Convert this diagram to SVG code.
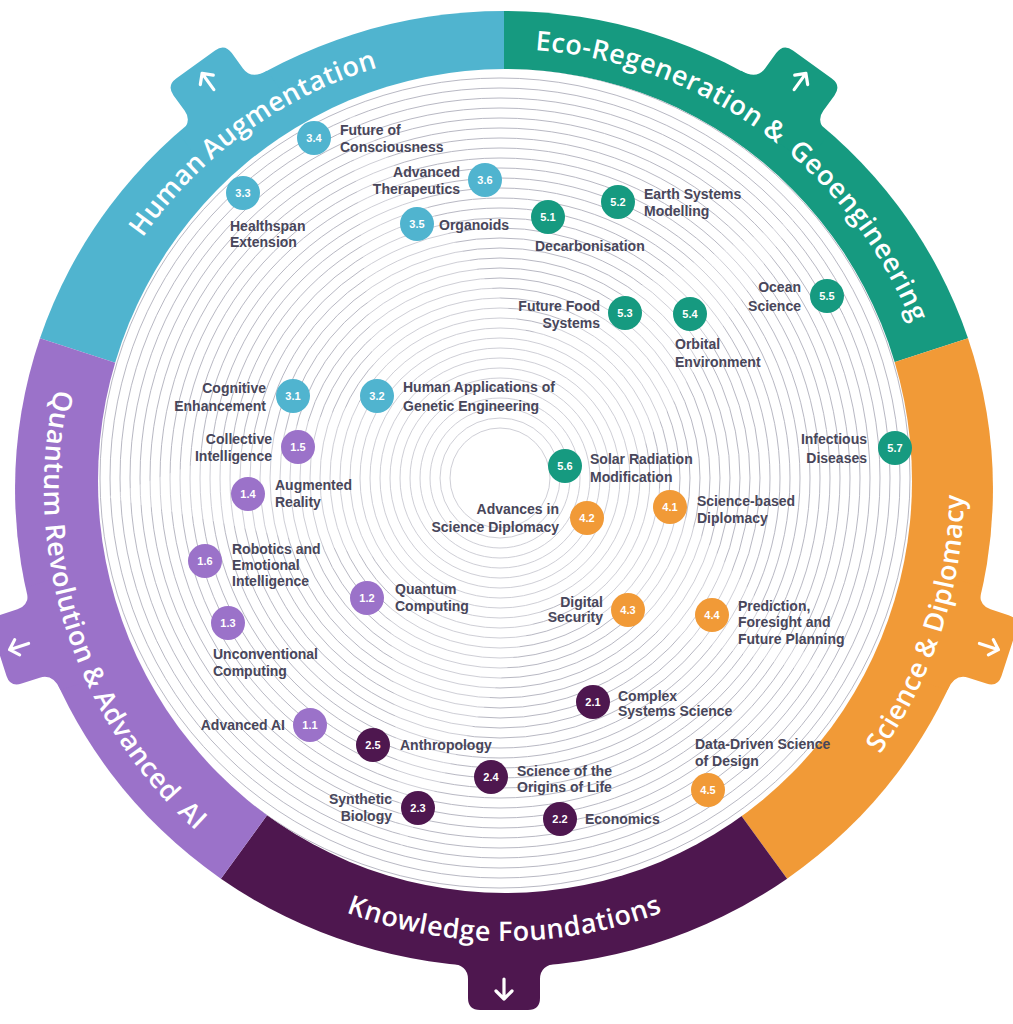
<svg xmlns="http://www.w3.org/2000/svg" width="1013" height="1024" viewBox="0 0 1013 1024">
<style>
.band-t{font-family:"Open Sans","Liberation Sans",sans-serif;font-size:27px;font-weight:600;fill:#ffffff;letter-spacing:0.5px}
.lb{font-family:"Liberation Sans",Arial,sans-serif;font-size:14px;font-weight:bold;fill:#48465a}
.num{font-family:"Liberation Sans",Arial,sans-serif;font-size:11px;font-weight:bold;fill:#ffffff;text-anchor:middle}
.ring{fill:none;stroke:#b0b0bc;stroke-width:0.9}
.arrow{fill:none;stroke:#ffffff;stroke-width:3.2;stroke-linecap:round;stroke-linejoin:round}
.c-blue{fill:#50b4cf}
.c-green{fill:#169a80}
.c-orange{fill:#f19a37}
.c-dark{fill:#4e174f}
.c-lilac{fill:#9b72c9}
</style>
<defs>
<path id="tab" d="M-54,4 Q-36,2 -36,-12 L-36,-31 Q-36,-43 -24,-43 L24,-43 Q36,-43 36,-31 L36,-12 Q36,2 54,4 L54,40 L-54,40 Z"/>
<path id="arr" d="M0,-12 V-32 M-8,-24 L0,-32 L8,-24"/>
<clipPath id="disc"><ellipse cx="505" cy="481" rx="407" ry="412"/></clipPath>
<path id="p-human" d="M85.5,353 A440,440 0 0 1 504,49"/>
<path id="p-eco" d="M504,49 A440,440 0 0 1 922.5,353"/>
<path id="p-sci" d="M774.4,861.2 A460,460 0 0 0 941.5,346.9"/>
<path id="p-know" d="M238.3,854.7 A452,452 0 0 0 769.7,854.7"/>
<path id="p-quant" d="M66.5,346.9 A460,460 0 0 0 233.6,861.2"/>
</defs>
<rect width="1013" height="1024" fill="#ffffff"/>

<g id="ring-bands">
<g id="band-human"><path class="c-blue" d="M504,489 L40,338.2 A489,478 0 0 1 504,11 Z"/><use href="#tab" class="c-blue" transform="translate(220.9,99.3) rotate(-36)"/><use href="#arr" class="arrow" transform="translate(220.9,99.3) rotate(-36)"/></g>
<g id="band-eco"><path class="c-green" d="M504,489 L504,11 A489,478 0 0 1 968,338.2 Z"/><use href="#tab" class="c-green" transform="translate(787.1,99.3) rotate(36)"/><use href="#arr" class="arrow" transform="translate(787.1,99.3) rotate(36)"/></g>
<g id="band-science"><path class="c-orange" d="M504,489 L968,338.2 A489,478 0 0 1 787.1,878.7 Z"/><use href="#tab" class="c-orange" transform="translate(968,639.8) rotate(108)"/><use href="#arr" class="arrow" transform="translate(968,639.8) rotate(108)"/></g>
<g id="band-knowledge"><path class="c-dark" d="M504,489 L787.1,878.7 A489,478 0 0 1 220.9,878.7 Z"/><use href="#tab" class="c-dark" transform="translate(504,967) rotate(180)"/><use href="#arr" class="arrow" transform="translate(504,967) rotate(180)"/></g>
<g id="band-quantum"><path class="c-lilac" d="M504,489 L220.9,878.7 A489,478 0 0 1 40,338.2 Z"/><use href="#tab" class="c-lilac" transform="translate(40,639.8) rotate(252)"/><use href="#arr" class="arrow" transform="translate(40,639.8) rotate(252)"/></g>
</g>

<g id="band-labels">
<text class="band-t"><textPath href="#p-human" startOffset="227.5" text-anchor="end">Human</textPath></text>
<text class="band-t"><textPath href="#p-human" startOffset="344" text-anchor="end">Augmen</textPath></text>
<text class="band-t"><textPath href="#p-human" startOffset="344" text-anchor="start">tation</textPath></text>
<text class="band-t"><textPath href="#p-eco" startOffset="268" text-anchor="end">Eco-Regeneration</textPath></text>
<text class="band-t"><textPath href="#p-eco" startOffset="285" text-anchor="middle">&amp;</textPath></text>
<text class="band-t"><textPath href="#p-eco" startOffset="452" text-anchor="end">Geoengine</textPath></text>
<text class="band-t"><textPath href="#p-eco" startOffset="452" text-anchor="start">ering</textPath></text>
<text class="band-t"><textPath href="#p-sci" startOffset="252" text-anchor="end">Science</textPath></text>
<text class="band-t"><textPath href="#p-sci" startOffset="269" text-anchor="middle">&amp;</textPath></text>
<text class="band-t"><textPath href="#p-sci" startOffset="286" text-anchor="start">Diplomacy</textPath></text>
<text class="band-t"><textPath href="#p-know" startOffset="270.5" text-anchor="end">Knowledge</textPath></text>
<text class="band-t"><textPath href="#p-know" startOffset="278" text-anchor="start">Foundations</textPath></text>
<text class="band-t"><textPath href="#p-quant" startOffset="325.25" text-anchor="end">Quantum Revolution</textPath></text>
<text class="band-t"><textPath href="#p-quant" startOffset="342.25" text-anchor="middle">&amp;</textPath></text>
<text class="band-t"><textPath href="#p-quant" startOffset="359.25" text-anchor="start">Advanced</textPath></text>
<text class="band-t"><textPath href="#p-quant" startOffset="503" text-anchor="start">AI</textPath></text>
</g>

<g id="disc-bg">
<ellipse cx="505" cy="481" rx="407" ry="412" fill="#ffffff"/>
<g clip-path="url(#disc)">
<circle class="ring" cx="500" cy="478" r="50"/><circle class="ring" cx="500" cy="478" r="60"/><circle class="ring" cx="500" cy="478" r="70"/><circle class="ring" cx="500" cy="478" r="80"/><circle class="ring" cx="500" cy="478" r="90"/><circle class="ring" cx="500" cy="478" r="100"/><circle class="ring" cx="500" cy="478" r="110"/><circle class="ring" cx="500" cy="478" r="120"/><circle class="ring" cx="500" cy="478" r="130"/><circle class="ring" cx="500" cy="478" r="140"/><circle class="ring" cx="500" cy="478" r="150"/><circle class="ring" cx="500" cy="478" r="160"/><circle class="ring" cx="500" cy="478" r="170"/><circle class="ring" cx="500" cy="478" r="180"/><circle class="ring" cx="500" cy="478" r="190"/><circle class="ring" cx="500" cy="478" r="200"/><circle class="ring" cx="500" cy="478" r="210"/><circle class="ring" cx="500" cy="478" r="220"/><circle class="ring" cx="500" cy="478" r="230"/><circle class="ring" cx="500" cy="478" r="240"/><circle class="ring" cx="500" cy="478" r="250"/><circle class="ring" cx="500" cy="478" r="260"/><circle class="ring" cx="500" cy="478" r="270"/><circle class="ring" cx="500" cy="478" r="280"/><circle class="ring" cx="500" cy="478" r="290"/><circle class="ring" cx="500" cy="478" r="300"/><circle class="ring" cx="500" cy="478" r="310"/><circle class="ring" cx="500" cy="478" r="320"/><circle class="ring" cx="500" cy="478" r="330"/><circle class="ring" cx="500" cy="478" r="340"/><circle class="ring" cx="500" cy="478" r="350"/><circle class="ring" cx="500" cy="478" r="360"/><circle class="ring" cx="500" cy="478" r="370"/><circle class="ring" cx="500" cy="478" r="380"/><circle class="ring" cx="500" cy="478" r="390"/><circle class="ring" cx="500" cy="478" r="400"/><circle class="ring" cx="500" cy="478" r="410"/><circle class="ring" cx="500" cy="478" r="420"/>
<polygon points="348.9,108.4 528.9,334.2 793.7,219.3 634.7,460.2 825.7,676.7 547.4,599.8 400.7,848.4 387.8,560 105.9,497.2 376.3,395.8" fill="#ffffff" opacity="0.32"/>
</g>
</g>

<g id="connectors"></g>

<!-- Human Augmentation -->
<g id="n-3-4"><circle class="c-blue" cx="314" cy="138" r="17"/><text class="num" x="314" y="142">3.4</text><text class="lb" x="340" y="135">Future of</text><text class="lb" x="340" y="152">Consciousness</text></g>
<g id="n-3-6"><circle class="c-blue" cx="485" cy="180" r="17"/><text class="num" x="485" y="184">3.6</text><text class="lb" x="460" y="177" text-anchor="end">Advanced</text><text class="lb" x="460" y="194" text-anchor="end">Therapeutics</text></g>
<g id="n-3-3"><circle class="c-blue" cx="243" cy="193" r="17"/><text class="num" x="243" y="197">3.3</text><text class="lb" x="230" y="231">Healthspan</text><text class="lb" x="230" y="247">Extension</text></g>
<g id="n-3-5"><circle class="c-blue" cx="417" cy="224" r="17"/><text class="num" x="417" y="228">3.5</text><text class="lb" x="439" y="230">Organoids</text></g>
<g id="n-3-1"><circle class="c-blue" cx="293" cy="396" r="17"/><text class="num" x="293" y="400">3.1</text><text class="lb" x="266" y="393" text-anchor="end">Cognitive</text><text class="lb" x="266" y="411" text-anchor="end">Enhancement</text></g>
<g id="n-3-2"><circle class="c-blue" cx="377" cy="396" r="17"/><text class="num" x="377" y="400">3.2</text><text class="lb" x="403" y="392">Human Applications of</text><text class="lb" x="403" y="411">Genetic Engineering</text></g>

<!-- Eco-Regeneration -->
<g id="n-5-2"><circle class="c-green" cx="618" cy="202" r="17"/><text class="num" x="618" y="206">5.2</text><text class="lb" x="644" y="199">Earth Systems</text><text class="lb" x="644" y="216">Modelling</text></g>
<g id="n-5-1"><circle class="c-green" cx="548" cy="217" r="17"/><text class="num" x="548" y="221">5.1</text><text class="lb" x="535" y="251">Decarbonisation</text></g>
<g id="n-5-3"><circle class="c-green" cx="625" cy="313" r="17"/><text class="num" x="625" y="317">5.3</text><text class="lb" x="600" y="311" text-anchor="end">Future Food</text><text class="lb" x="600" y="328" text-anchor="end">Systems</text></g>
<g id="n-5-4"><circle class="c-green" cx="690" cy="314" r="17"/><text class="num" x="690" y="318">5.4</text><text class="lb" x="675" y="349">Orbital</text><text class="lb" x="675" y="367">Environment</text></g>
<g id="n-5-5"><circle class="c-green" cx="827" cy="296" r="17"/><text class="num" x="827" y="300">5.5</text><text class="lb" x="801" y="292" text-anchor="end">Ocean</text><text class="lb" x="801" y="311" text-anchor="end">Science</text></g>
<g id="n-5-6"><circle class="c-green" cx="565" cy="466" r="17"/><text class="num" x="565" y="470">5.6</text><text class="lb" x="590" y="464">Solar Radiation</text><text class="lb" x="590" y="482">Modification</text></g>
<g id="n-5-7"><circle class="c-green" cx="895" cy="448" r="17"/><text class="num" x="895" y="452">5.7</text><text class="lb" x="867" y="444" text-anchor="end">Infectious</text><text class="lb" x="867" y="463" text-anchor="end">Diseases</text></g>

<!-- Science & Diplomacy -->
<g id="n-4-2"><circle class="c-orange" cx="587" cy="518" r="17"/><text class="num" x="587" y="522">4.2</text><text class="lb" x="559" y="514" text-anchor="end">Advances in</text><text class="lb" x="559" y="532" text-anchor="end">Science Diplomacy</text></g>
<g id="n-4-1"><circle class="c-orange" cx="670" cy="507" r="17"/><text class="num" x="670" y="511">4.1</text><text class="lb" x="697" y="506">Science-based</text><text class="lb" x="697" y="523">Diplomacy</text></g>
<g id="n-4-3"><circle class="c-orange" cx="628" cy="610" r="17"/><text class="num" x="628" y="614">4.3</text><text class="lb" x="603" y="607" text-anchor="end">Digital</text><text class="lb" x="603" y="622" text-anchor="end">Security</text></g>
<g id="n-4-4"><circle class="c-orange" cx="712" cy="615" r="17"/><text class="num" x="712" y="619">4.4</text><text class="lb" x="738" y="611">Prediction,</text><text class="lb" x="738" y="627">Foresight and</text><text class="lb" x="738" y="644">Future Planning</text></g>
<g id="n-4-5"><circle class="c-orange" cx="708" cy="790" r="17"/><text class="num" x="708" y="794">4.5</text><text class="lb" x="695" y="749">Data-Driven Science</text><text class="lb" x="695" y="766">of Design</text></g>

<!-- Quantum Revolution & Advanced AI -->
<g id="n-1-5"><circle class="c-lilac" cx="298" cy="447" r="17"/><text class="num" x="298" y="451">1.5</text><text class="lb" x="272" y="444" text-anchor="end">Collective</text><text class="lb" x="272" y="461" text-anchor="end">Intelligence</text></g>
<g id="n-1-4"><circle class="c-lilac" cx="248" cy="494" r="17"/><text class="num" x="248" y="498">1.4</text><text class="lb" x="275" y="490">Augmented</text><text class="lb" x="275" y="507">Reality</text></g>
<g id="n-1-6"><circle class="c-lilac" cx="205" cy="561" r="17"/><text class="num" x="205" y="565">1.6</text><text class="lb" x="232" y="554">Robotics and</text><text class="lb" x="232" y="570">Emotional</text><text class="lb" x="232" y="586">Intelligence</text></g>
<g id="n-1-2"><circle class="c-lilac" cx="367" cy="598" r="17"/><text class="num" x="367" y="602">1.2</text><text class="lb" x="395" y="594">Quantum</text><text class="lb" x="395" y="611">Computing</text></g>
<g id="n-1-3"><circle class="c-lilac" cx="228" cy="623" r="17"/><text class="num" x="228" y="627">1.3</text><text class="lb" x="213" y="659">Unconventional</text><text class="lb" x="213" y="676">Computing</text></g>
<g id="n-1-1"><circle class="c-lilac" cx="310" cy="725" r="17"/><text class="num" x="310" y="729">1.1</text><text class="lb" x="285" y="730" text-anchor="end">Advanced AI</text></g>

<!-- Knowledge Foundations -->
<g id="n-2-1"><circle class="c-dark" cx="593" cy="702" r="17"/><text class="num" x="593" y="706">2.1</text><text class="lb" x="618" y="701">Complex</text><text class="lb" x="618" y="716">Systems Science</text></g>
<g id="n-2-5"><circle class="c-dark" cx="373" cy="745" r="17"/><text class="num" x="373" y="749">2.5</text><text class="lb" x="400" y="750">Anthropology</text></g>
<g id="n-2-4"><circle class="c-dark" cx="491" cy="777" r="17"/><text class="num" x="491" y="781">2.4</text><text class="lb" x="517" y="776">Science of the</text><text class="lb" x="517" y="792">Origins of Life</text></g>
<g id="n-2-3"><circle class="c-dark" cx="418" cy="808" r="17"/><text class="num" x="418" y="812">2.3</text><text class="lb" x="392" y="804" text-anchor="end">Synthetic</text><text class="lb" x="392" y="821" text-anchor="end">Biology</text></g>
<g id="n-2-2"><circle class="c-dark" cx="560" cy="819" r="17"/><text class="num" x="560" y="823">2.2</text><text class="lb" x="585" y="824">Economics</text></g>
</svg>
